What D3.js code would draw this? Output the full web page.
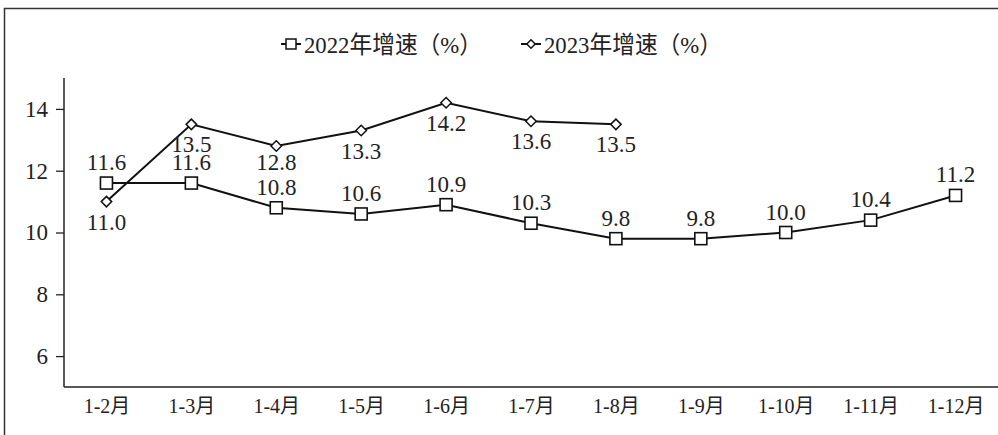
<!DOCTYPE html>
<html>
<head>
<meta charset="utf-8">
<script src="https://cdn.jsdelivr.net/npm/d3@7"></script>
<style>
  body { margin: 0; background: #fff; }
  svg text { font-family: "Liberation Serif", "Times New Roman", "Noto Sans CJK SC", serif; fill: #222; }
</style>
</head>
<body>
<svg width="998" height="435"></svg>
<script>
const months = ['1-2月', '1-3月', '1-4月', '1-5月', '1-6月', '1-7月', '1-8月', '1-9月', '1-10月', '1-11月', '1-12月'];
const growth2022 = [11.6, 11.6, 10.8, 10.6, 10.9, 10.3, 9.8, 9.8, 10.0, 10.4, 11.2];
const growth2023 = [11.0, 13.5, 12.8, 13.3, 14.2, 13.6, 13.5];
const yTicks = [6, 8, 10, 12, 14];
const seriesNames = ['2022年增速（%）', '2023年增速（%）'];

const svg = d3.select('svg');
const width = +svg.attr('width');
const height = +svg.attr('height');
const margin = { top: 78, right: 0, bottom: 48, left: 64 };

// frame around the figure
svg.append('path')
  .attr('d', `M${width},8.5 H4.5 V${height}`)
  .attr('fill', 'none')
  .attr('stroke', '#333')
  .attr('stroke-width', 1.5);

const xScale = d3.scalePoint()
  .domain(months)
  .range([margin.left, width - margin.right])
  .padding(0.5);

const yScale = d3.scaleLinear()
  .domain([5, 15])
  .range([height - margin.bottom, margin.top]);

// y axis
const yAxisG = svg.append('g')
  .attr('transform', `translate(${margin.left},0)`)
  .call(d3.axisLeft(yScale).tickValues(yTicks).tickSize(8).tickPadding(8));
yAxisG.attr('font-family', null);
yAxisG.select('.domain').attr('d', `M0,${margin.top}V${height - margin.bottom}`).attr('stroke', '#222').attr('stroke-width', 1.5);
yAxisG.selectAll('.tick line').attr('stroke', '#222').attr('stroke-width', 1.3);
yAxisG.selectAll('.tick text').attr('font-size', 23).attr('fill', '#222');

// x axis
const xAxisG = svg.append('g')
  .attr('transform', `translate(0,${height - margin.bottom})`)
  .call(d3.axisBottom(xScale).tickSize(0).tickPadding(12));
xAxisG.attr('font-family', null);
xAxisG.select('.domain').attr('d', `M${margin.left},0H${width}`).attr('stroke', '#222').attr('stroke-width', 1.5);
xAxisG.selectAll('.tick text').attr('font-size', 20).attr('fill', '#222');

const line = d3.line()
  .x((d, i) => xScale(months[i]))
  .y(d => yScale(d));

svg.append('path').datum(growth2022)
  .attr('d', line).attr('fill', 'none').attr('stroke', '#111').attr('stroke-width', 2);
svg.append('path').datum(growth2023)
  .attr('d', line).attr('fill', 'none').attr('stroke', '#111').attr('stroke-width', 2);

const sq = 12;
svg.selectAll('rect.m2022').data(growth2022)
  .enter().append('rect')
    .attr('class', 'm2022')
    .attr('x', (d, i) => xScale(months[i]) - sq / 2)
    .attr('y', d => yScale(d) - sq / 2)
    .attr('width', sq).attr('height', sq)
    .attr('fill', '#fff').attr('stroke', '#111').attr('stroke-width', 1.6);

const diamond = d3.symbol().type(d3.symbolDiamond2).size(70);
svg.selectAll('path.m2023').data(growth2023)
  .enter().append('path')
    .attr('class', 'm2023')
    .attr('d', diamond)
    .attr('transform', (d, i) => `translate(${xScale(months[i])},${yScale(d)})`)
    .attr('fill', '#fff').attr('stroke', '#111').attr('stroke-width', 1.5);

// value labels: 2022 above the markers, 2023 below
svg.selectAll('text.l2022').data(growth2022)
  .enter().append('text')
    .attr('class', 'l2022')
    .attr('x', (d, i) => xScale(months[i]))
    .attr('y', d => yScale(d) - 13)
    .attr('text-anchor', 'middle')
    .attr('font-size', 23)
    .text(d => d.toFixed(1));

svg.selectAll('text.l2023').data(growth2023)
  .enter().append('text')
    .attr('class', 'l2023')
    .attr('x', (d, i) => xScale(months[i]))
    .attr('y', (d, i) => yScale(d) + (i === 2 ? 24 : 28))
    .attr('text-anchor', 'middle')
    .attr('font-size', 23)
    .text(d => d.toFixed(1));

// legend
const legend = svg.append('g').attr('transform', 'translate(0,44)');
const lx = [291, 531];
legend.selectAll('line').data(lx).enter().append('line')
  .attr('x1', d => d - 10).attr('x2', d => d + 10)
  .attr('stroke', '#111').attr('stroke-width', 2);
legend.append('rect')
  .attr('x', lx[0] - 5).attr('y', -5).attr('width', 10).attr('height', 10)
  .attr('fill', '#fff').attr('stroke', '#111').attr('stroke-width', 1.5);
legend.append('path')
  .attr('d', d3.symbol().type(d3.symbolDiamond2).size(45))
  .attr('transform', `translate(${lx[1]},0)`)
  .attr('fill', '#fff').attr('stroke', '#111').attr('stroke-width', 1.5);
legend.selectAll('text').data(seriesNames).enter().append('text')
  .attr('x', (d, i) => lx[i] + 13)
  .attr('y', 9)
  .attr('font-size', 24)
  .attr('textLength', 178)
  .attr('lengthAdjust', 'spacingAndGlyphs')
  .text(d => d);
</script>
</body>
</html>
